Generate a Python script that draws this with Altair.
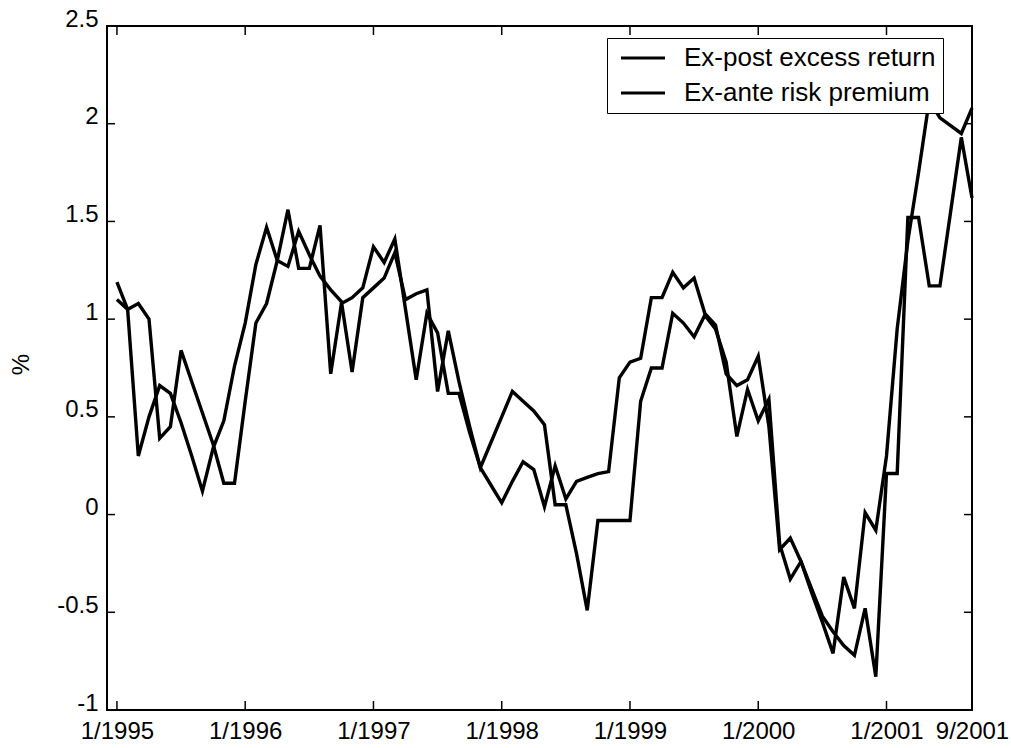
import json

import altair as alt
import pandas as pd

# Monthly series, 1/1995 through 9/2001 (81 months), in percent
series_names = ["Ex-post excess return", "Ex-ante risk premium"]
month_index = list(range(81))

ex_post = [
    1.10, 1.05, 1.08, 1.00, 0.39, 0.45, 0.84, 0.68, 0.52, 0.36, 0.16, 0.16,
    0.58, 0.98, 1.08, 1.30, 1.56, 1.26, 1.26, 1.48, 0.72, 1.08, 1.11, 1.16,
    1.37, 1.29, 1.41, 1.05, 0.69, 1.03, 0.93, 0.62, 0.62, 0.42, 0.24, 0.15,
    0.06, 0.17, 0.27, 0.23, 0.04, 0.25, 0.08, 0.17, 0.19, 0.21, 0.22, 0.70,
    0.78, 0.80, 1.11, 1.11, 1.24, 1.16, 1.21, 1.03, 0.97, 0.72, 0.66, 0.69,
    0.81, 0.45, -0.18, -0.12, -0.24, -0.40, -0.55, -0.71, -0.32, -0.48, 0.01, -0.08,
    0.30, 0.95, 1.40, 1.75, 2.12, 2.03, 1.99, 1.95, 2.08,
]

ex_ante = [
    1.19, 1.05, 0.30, 0.50, 0.66, 0.62, 0.47, 0.30, 0.12, 0.34, 0.48, 0.76,
    0.98, 1.28, 1.47, 1.30, 1.27, 1.45, 1.33, 1.22, 1.15, 1.09, 0.73, 1.11,
    1.16, 1.21, 1.34, 1.10, 1.13, 1.15, 0.63, 0.94, 0.68, 0.45, 0.24, 0.37,
    0.50, 0.63, 0.58, 0.53, 0.46, 0.05, 0.05, -0.20, -0.49, -0.03, -0.03, -0.03,
    -0.03, 0.58, 0.75, 0.75, 1.03, 0.98, 0.91, 1.02, 0.95, 0.78, 0.40, 0.64,
    0.48, 0.59, -0.15, -0.33, -0.24, -0.38, -0.52, -0.60, -0.67, -0.72, -0.48, -0.83,
    0.21, 0.21, 1.52, 1.52, 1.17, 1.17, 1.55, 1.93, 1.62,
]

x_tick_months = [0, 12, 24, 36, 48, 60, 72, 80]
x_tick_labels = ["1/1995", "1/1996", "1/1997", "1/1998", "1/1999", "1/2000", "1/2001", "9/2001"]
y_ticks = [-1, -0.5, 0, 0.5, 1, 1.5, 2, 2.5]

W, H = 865, 684
FONT = "Liberation Sans"
TICK_Y = 8   # inward tick length on the value axes
TICK_X = 9   # inward tick length on the time axes

rows = []
for name, vals in zip(series_names, [ex_post, ex_ante]):
    for m, v in zip(month_index, vals):
        rows.append({"month": m, "value": v, "series": name})
df = pd.DataFrame(rows)

x_scale = alt.Scale(domain=[-0.93, 80], nice=False, zero=False)
y_scale = alt.Scale(domain=[-1, 2.5], nice=False, zero=False)

x_label_expr = f"{json.dumps(x_tick_labels)}[indexof({json.dumps(x_tick_months)}, datum.value)]"

# One axis definition per direction, shared by every layer so they merge cleanly
x_axis = alt.Axis(
    values=x_tick_months,
    labelExpr=x_label_expr,
    title=None,
    ticks=False,
    domain=False,
    grid=False,
    labelFont=FONT,
    labelFontSize=24,
    labelColor="black",
    labelPadding=9,
    labelOverlap=False,
    labelFlush=False,
)
y_axis = alt.Axis(
    values=y_ticks,
    labelExpr="toString(datum.value)",
    title="%",
    ticks=False,
    domain=False,
    grid=False,
    labelFont=FONT,
    labelFontSize=24,
    labelColor="black",
    labelPadding=9,
    labelOffset=-7,
    labelOverlap=False,
    labelFlush=False,
    titleFont=FONT,
    titleFontSize=24,
    titleFontWeight="normal",
    titleColor="black",
    titleX=-86,
    titleY=338,
    titleAngle=270,
    titleAlign="center",
    titleBaseline="middle",
)

lines = alt.Chart(df).mark_line(strokeWidth=3.4).encode(
    x=alt.X("month:Q", scale=x_scale, axis=x_axis),
    y=alt.Y("value:Q", scale=y_scale, axis=y_axis),
    color=alt.Color(
        "series:N",
        scale=alt.Scale(domain=series_names, range=["black", "black"]),
        legend=alt.Legend(
            title=None,
            orient="none",
            legendX=500,
            legendY=12,
            fillColor="white",
            strokeColor="black",
            padding=7,
            rowPadding=9,
            symbolType="M-2,0H2",
            symbolSize=484,
            symbolStrokeWidth=3,
            symbolOffset=16,
            labelFont=FONT,
            labelFontSize=26,
            labelColor="black",
            labelOffset=28,
            labelLimit=500,
        ),
    ),
    detail="series:N",
)

ytick_df = pd.DataFrame({"v": y_ticks})
xtick_df = pd.DataFrame({"m": x_tick_months})

y_enc = alt.Y("v:Q", scale=y_scale, axis=y_axis)
x_enc = alt.X("m:Q", scale=x_scale, axis=x_axis)

left_ticks = alt.Chart(ytick_df).mark_rule(color="black", strokeWidth=1.5).encode(
    y=y_enc, x=alt.value(0), x2=alt.value(TICK_Y)
)
right_ticks = alt.Chart(ytick_df).mark_rule(color="black", strokeWidth=1.5).encode(
    y=y_enc, x=alt.value(W - TICK_Y), x2=alt.value(W)
)
bottom_ticks = alt.Chart(xtick_df).mark_rule(color="black", strokeWidth=1.5).encode(
    x=x_enc, y=alt.value(H - TICK_X), y2=alt.value(H)
)
top_ticks = alt.Chart(xtick_df).mark_rule(color="black", strokeWidth=1.5).encode(
    x=x_enc, y=alt.value(0), y2=alt.value(TICK_X)
)

chart = (
    alt.layer(lines, left_ticks, right_ticks, bottom_ticks, top_ticks)
    .properties(
        width=W,
        height=H,
        autosize=alt.AutoSizeParams(type="none"),
        padding={"left": 107, "top": 26, "right": 39, "bottom": 38},
        background="white",
    )
    .configure_view(stroke="black", strokeWidth=2)
)

chart.save("out.html", embed_options={"renderer": "svg", "actions": False})
